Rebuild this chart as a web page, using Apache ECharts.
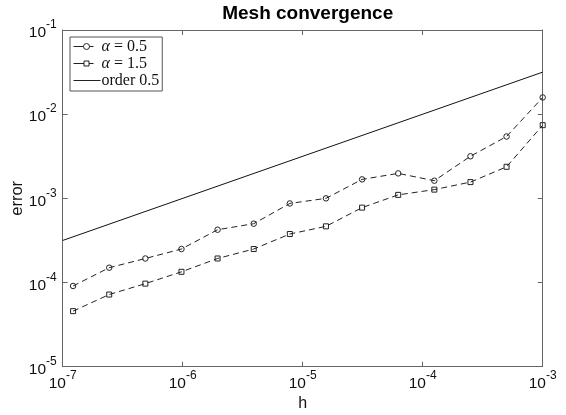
<!DOCTYPE html>
<html>
<head>
<meta charset="utf-8">
<script src="https://cdn.jsdelivr.net/npm/echarts@6/dist/echarts.min.js"></script>
<style>html,body{margin:0;padding:0;background:#fff}#c{width:566px;height:415px}</style>
</head>
<body>
<div id="c"></div>
<script>
// Mesh sizes h (ascending)
var hValues = [1.2207e-7, 2.4414e-7, 4.8828e-7, 9.7656e-7, 1.9531e-6, 3.9063e-6, 7.8125e-6,
               1.5625e-5, 3.125e-5, 6.25e-5, 1.25e-4, 2.5e-4, 5e-4, 1e-3];
// Errors for alpha = 0.5 (circles)
var errAlpha05 = [9.1e-5, 1.5e-4, 1.93e-4, 2.5e-4, 4.24e-4, 5.0e-4, 8.7e-4,
                  1.0e-3, 1.68e-3, 1.98e-3, 1.62e-3, 3.16e-3, 5.43e-3, 1.58e-2];
// Errors for alpha = 1.5 (squares)
var errAlpha15 = [4.57e-5, 7.2e-5, 9.7e-5, 1.34e-4, 1.93e-4, 2.5e-4, 3.77e-4,
                  4.65e-4, 7.76e-4, 1.1e-3, 1.27e-3, 1.56e-3, 2.37e-3, 7.4e-3];
// Reference line "order 0.5" endpoints
var orderH = [1e-7, 1e-3];
var orderErr = [3.16e-4, 3.16e-2];

var seriesNames = ['α = 0.5', 'α = 1.5', 'order 0.5'];

function pairs(xs, ys) { return xs.map(function (x, i) { return [x, ys[i]]; }); }

var axisColor = '#666';
var ink = '#222';
var sansFont = 'Liberation Sans, Arial, Helvetica, sans-serif';
var serifFont = 'Liberation Serif, Times New Roman, serif';

function powLabel(v) {
  var e = Math.round(Math.log10(v));
  return '{b|10}{s|' + e + '}';
}
var labelRich = {
  b: { fontSize: 15.5, fontFamily: sansFont, color: '#111', lineHeight: 22, verticalAlign: 'bottom' },
  s: { fontSize: 12, fontFamily: sansFont, color: '#111', lineHeight: 22, verticalAlign: 'top' }
};

function makeX(pos, show) {
  return {
    type: 'log', logBase: 10, min: 1e-7, max: 1e-3, position: pos,
    name: show ? 'h' : '', nameLocation: 'middle', nameGap: 29, nameMoveOverlap: false,
    nameTextStyle: { fontSize: 16, fontFamily: sansFont, color: '#111' },
    axisLine: { show: true, onZero: false, lineStyle: { color: axisColor, width: 1 } },
    axisTick: { show: true, inside: true, length: 5, lineStyle: { color: axisColor } },
    minorTick: { show: false }, splitLine: { show: false }, minorSplitLine: { show: false },
    axisLabel: { show: show, formatter: powLabel, rich: labelRich, margin: 3 }
  };
}
function makeY(pos, show) {
  return {
    type: 'log', logBase: 10, min: 1e-5, max: 1e-1, position: pos,
    name: show ? 'error' : '', nameLocation: 'middle', nameGap: 37, nameMoveOverlap: false,
    nameTextStyle: { fontSize: 16.5, fontFamily: sansFont, color: '#111' },
    axisLine: { show: true, onZero: false, lineStyle: { color: axisColor, width: 1 } },
    axisTick: { show: true, inside: true, length: 5, lineStyle: { color: axisColor } },
    minorTick: { show: false }, splitLine: { show: false }, minorSplitLine: { show: false },
    axisLabel: { show: show, formatter: powLabel, rich: labelRich, margin: 6 }
  };
}

// legend icons: short line + open marker + short line, padded to a 27x12 box
var iconCircle = 'path://M0 0M27 12M0 6L10 6M16 6L20 6M10 6A3 3 0 1 1 16 6A3 3 0 1 1 10 6';
var iconSquare = 'path://M0 0M27 12M0 6L10.5 6M15.5 6L20 6M10.5 3.5L15.5 3.5L15.5 8.5L10.5 8.5Z';
var iconLine = 'path://M0 0M27 12M0 6L27 6';
var iconStyle = { color: 'rgba(255,255,255,0)', borderColor: ink, borderWidth: 1 };

var chart = echarts.init(document.getElementById('c'), null, { renderer: 'canvas' });
chart.setOption({
  animation: false,
  backgroundColor: '#fff',
  title: {
    text: 'Mesh convergence', left: 302.7, top: -1, textAlign: 'center',
    textStyle: { fontSize: 19, fontWeight: 'bold', fontFamily: sansFont, color: '#000' }
  },
  grid: { left: 62.7, right: 23.3, top: 30, bottom: 48.3, outerBoundsMode: 'none', containLabel: false },
  xAxis: [makeX('bottom', true), makeX('top', false)],
  yAxis: [makeY('left', true), makeY('right', false)],
  legend: {
    orient: 'vertical', left: 70, top: 37,
    data: [
      { name: seriesNames[0], icon: iconCircle, itemStyle: iconStyle },
      { name: seriesNames[1], icon: iconSquare, itemStyle: iconStyle },
      { name: seriesNames[2], icon: iconLine, itemStyle: iconStyle }
    ],
    backgroundColor: '#fff', borderColor: '#555', borderWidth: 1, borderRadius: 0,
    padding: [1, 3, 2, 3], itemGap: 0, itemWidth: 27, itemHeight: 12,
    textStyle: {
      fontSize: 16, lineHeight: 17, fontFamily: serifFont, color: '#111', padding: [0, 0, 0, -4],
      rich: { i: { fontSize: 16, lineHeight: 17, fontFamily: serifFont, fontStyle: 'italic', color: '#111' } }
    },
    formatter: function (name) { return name.replace('α', '{i|α}'); }
  },
  series: [
    {
      name: seriesNames[0], type: 'line', data: pairs(hValues, errAlpha05),
      symbol: 'circle', symbolSize: 5.5, showSymbol: true,
      lineStyle: { color: ink, width: 1, type: [6, 4] },
      itemStyle: { color: 'rgba(255,255,255,0)', borderColor: ink, borderWidth: 1 }, z: 3
    },
    {
      name: seriesNames[1], type: 'line', data: pairs(hValues, errAlpha15),
      symbol: 'rect', symbolSize: 5, showSymbol: true,
      lineStyle: { color: ink, width: 1, type: [6, 4] },
      itemStyle: { color: 'rgba(255,255,255,0)', borderColor: ink, borderWidth: 1 }, z: 3
    },
    {
      name: seriesNames[2], type: 'line', data: pairs(orderH, orderErr),
      symbol: 'none', lineStyle: { color: '#111', width: 1, type: 'solid' },
      itemStyle: { color: '#111' }, z: 2
    }
  ]
});
</script>
</body>
</html>
